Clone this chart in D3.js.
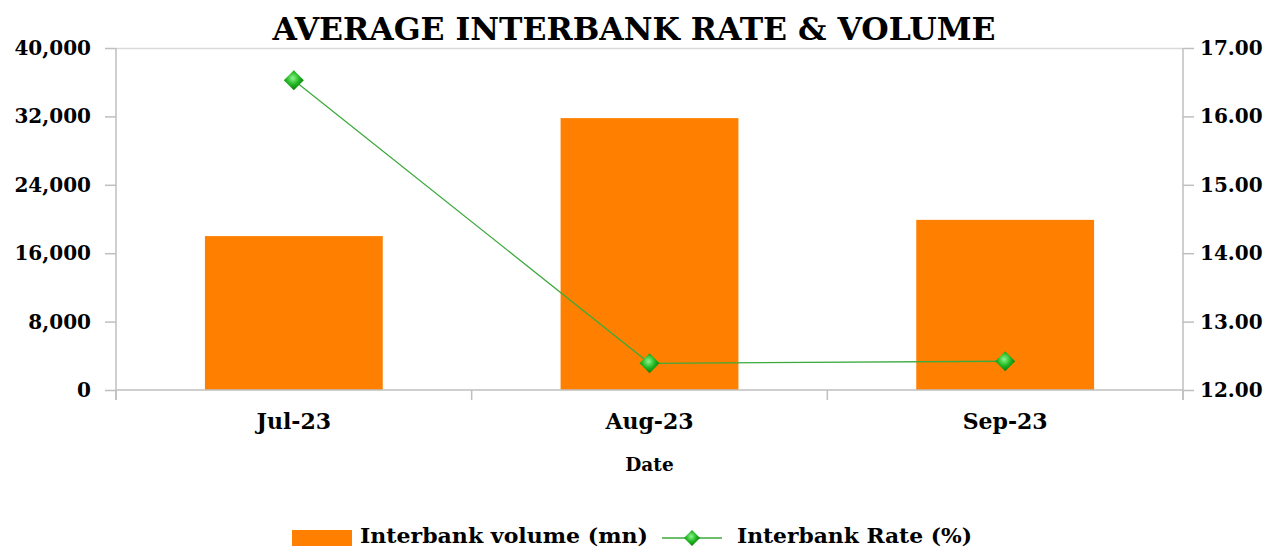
<!DOCTYPE html>
<html><head><meta charset="utf-8">
<script src="https://cdn.jsdelivr.net/npm/d3@7"></script>
<style>body{margin:0;background:#fff}svg{display:block}</style>
</head><body><svg id="c" width="1268" height="548"></svg>
<script>
const categories = ["Jul-23", "Aug-23", "Sep-23"];
const volume = [18000, 31800, 19900];
const rate = [16.53, 12.39, 12.42];
const leftTicks = [0, 8000, 16000, 24000, 32000, 40000];
const rightTicks = [12, 13, 14, 15, 16, 17];

const W = 1268, H = 548;
const m = {left: 116, right: 85, top: 48, bottom: 158};
const svg = d3.select("#c");
const font = "'DejaVu Serif', 'Liberation Serif', serif";
const axisCol = "#BFBFBF";

const x = d3.scaleBand().domain(categories).range([m.left, W - m.right]).paddingInner(0.5).paddingOuter(0.25);
const yL = d3.scaleLinear().domain([0, 40000]).range([H - m.bottom, m.top]);
const yR = d3.scaleLinear().domain([12, 17]).range([H - m.bottom, m.top]);

const defs = svg.append("defs");
const g = defs.append("radialGradient").attr("id", "dg").attr("cx", "45%").attr("cy", "40%").attr("r", "60%");
g.append("stop").attr("offset", "0%").attr("stop-color", "#8CF58C");
g.append("stop").attr("offset", "55%").attr("stop-color", "#1FB51F");
g.append("stop").attr("offset", "100%").attr("stop-color", "#0A7A0A");

// top border line
svg.append("line").attr("x1", m.left).attr("x2", W - m.right).attr("y1", m.top + 0.5).attr("y2", m.top + 0.5)
  .attr("stroke", "#D9D9D9").attr("stroke-width", 1.5);

// bars
svg.selectAll("rect.bar").data(categories).join("rect").attr("class", "bar")
  .attr("x", d => x(d)).attr("width", x.bandwidth())
  .attr("y", (d, i) => yL(volume[i])).attr("height", (d, i) => yL(0) - yL(volume[i]))
  .attr("fill", "#FF8000");

// axes
function styleAxis(sel) {
  sel.select(".domain").attr("stroke", axisCol).attr("stroke-width", 1.5);
  sel.selectAll(".tick line").attr("stroke", axisCol).attr("stroke-width", 1.5);
  sel.selectAll("text").attr("font-family", font).attr("font-weight", "bold").attr("font-size", 20).attr("fill", "#000");
}
const axL = svg.append("g").attr("transform", `translate(${m.left},0)`)
  .call(d3.axisLeft(yL).tickValues(leftTicks).tickFormat(d3.format(",")).tickSize(11).tickSizeOuter(0).tickPadding(14));
styleAxis(axL);
axL.select(".domain").attr("d", `M0,${m.top}V${H - m.bottom + 10}`);
const axR = svg.append("g").attr("transform", `translate(${W - m.right},0)`)
  .call(d3.axisRight(yR).tickValues(rightTicks).tickFormat(d3.format(".2f")).tickSize(11).tickSizeOuter(0).tickPadding(6));
styleAxis(axR);
axR.select(".domain").attr("d", `M0,${m.top}V${H - m.bottom + 10}`);

// x axis
const xb = svg.append("g").attr("transform", `translate(0,${H - m.bottom})`);
xb.append("line").attr("x1", m.left).attr("x2", W - m.right).attr("stroke", axisCol).attr("stroke-width", 1.5);
const boundaries = d3.range(categories.length + 1).map(i => m.left + i * (W - m.left - m.right) / categories.length);
xb.selectAll("line.t").data(boundaries).join("line").attr("class", "t")
  .attr("x1", d => d).attr("x2", d => d).attr("y1", 0).attr("y2", 10).attr("stroke", axisCol).attr("stroke-width", 1.5);
xb.selectAll("text").data(categories).join("text")
  .attr("x", d => x(d) + x.bandwidth() / 2).attr("y", 39).attr("text-anchor", "middle")
  .attr("font-family", font).attr("font-weight", "bold").attr("font-size", 22).text(d => d);

svg.append("text").attr("x", (m.left + W - m.right) / 2).attr("y", 471).attr("text-anchor", "middle")
  .attr("font-family", font).attr("font-weight", "bold").attr("font-size", 18.5).text("Date");

// line
const line = d3.line().x((d, i) => x(categories[i]) + x.bandwidth() / 2).y(d => yR(d));
svg.append("path").datum(rate).attr("d", line).attr("fill", "none").attr("stroke", "#3DAA3D").attr("stroke-width", 1.3);
const diamond = s => `M0,${-s}L${s},0L0,${s}L${-s},0Z`;
svg.selectAll("path.mk").data(rate).join("path").attr("class", "mk")
  .attr("transform", (d, i) => `translate(${x(categories[i]) + x.bandwidth() / 2},${yR(d)})`)
  .attr("d", diamond(10)).attr("fill", "url(#dg)");

// title
svg.append("text").attr("x", 634).attr("y", 40).attr("text-anchor", "middle")
  .attr("font-family", font).attr("font-weight", "bold").attr("font-size", 32)
  .attr("textLength", 723).attr("lengthAdjust", "spacingAndGlyphs").text("AVERAGE INTERBANK RATE & VOLUME");

// legend
const lg = svg.append("g");
lg.append("rect").attr("x", 292).attr("y", 530).attr("width", 60).attr("height", 16).attr("fill", "#FF8000");
lg.append("text").attr("x", 360).attr("y", 543).attr("font-family", font).attr("font-weight", "bold").attr("font-size", 21)
  .attr("textLength", 288).attr("lengthAdjust", "spacingAndGlyphs").text("Interbank volume (mn)");
lg.append("line").attr("x1", 662).attr("x2", 722).attr("y1", 538).attr("y2", 538).attr("stroke", "#3DAA3D").attr("stroke-width", 1.3);
lg.append("path").attr("transform", "translate(692,538)").attr("d", diamond(8)).attr("fill", "url(#dg)");
lg.append("text").attr("x", 737).attr("y", 543).attr("font-family", font).attr("font-weight", "bold").attr("font-size", 21)
  .attr("textLength", 235).attr("lengthAdjust", "spacingAndGlyphs").text("Interbank Rate (%)");
</script></body></html>
